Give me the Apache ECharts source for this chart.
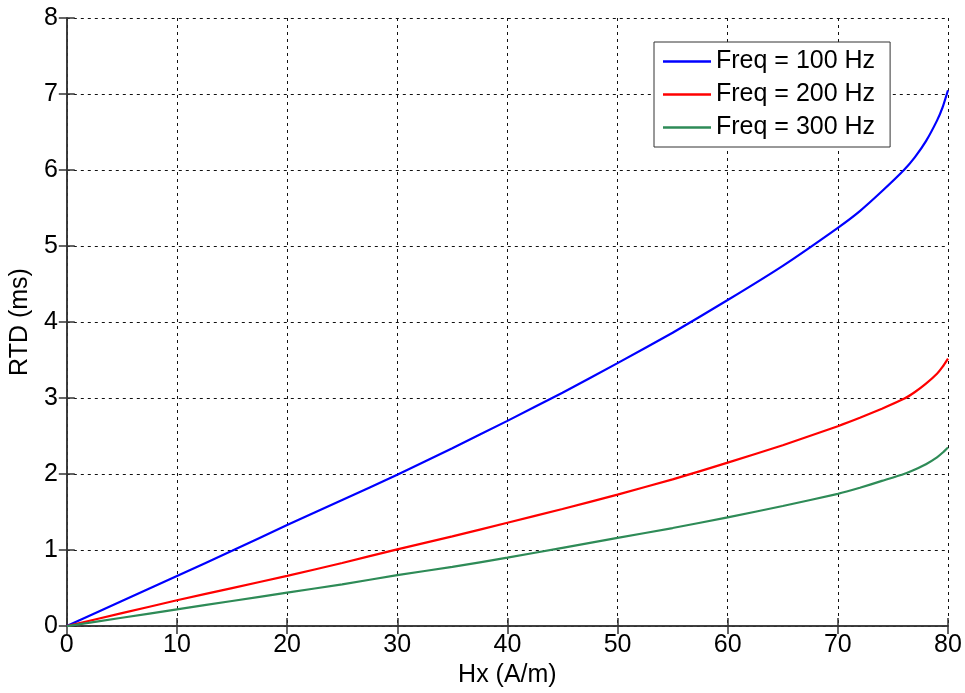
<!DOCTYPE html>
<html>
<head>
<meta charset="utf-8">
<script src="https://cdn.jsdelivr.net/npm/echarts@6/dist/echarts.min.js"></script>
<style>
html,body{margin:0;padding:0;background:#fff;}
#chart{width:965px;height:693px;}
</style>
</head>
<body>
<div id="chart"></div>
<script>
// Hx values (A/m)
var hx = [0, 5, 10, 15, 20, 25, 30, 35, 40, 45, 50, 55, 60, 65, 70, 72, 74, 76, 77, 78, 79, 79.5, 80];
// RTD (ms)
var rtd100 = [0, 0.33, 0.66, 0.99, 1.33, 1.66, 1.99, 2.34, 2.70, 3.07, 3.46, 3.86, 4.29, 4.74, 5.24, 5.46, 5.72, 6.00, 6.17, 6.38, 6.65, 6.82, 7.05];
var rtd200 = [0, 0.17, 0.34, 0.50, 0.66, 0.83, 1.01, 1.18, 1.36, 1.54, 1.73, 1.93, 2.15, 2.38, 2.63, 2.74, 2.86, 2.99, 3.08, 3.19, 3.32, 3.41, 3.52];
var rtd300 = [0, 0.11, 0.22, 0.33, 0.44, 0.55, 0.67, 0.78, 0.90, 1.03, 1.16, 1.29, 1.43, 1.58, 1.74, 1.82, 1.91, 2.00, 2.06, 2.13, 2.22, 2.28, 2.35];
var seriesNames = ['Freq = 100 Hz', 'Freq = 200 Hz', 'Freq = 300 Hz'];
var seriesColors = ['#0000ff', '#ff0000', '#2e8b57'];
var xTicks = [0, 10, 20, 30, 40, 50, 60, 70, 80];
var yTicks = [0, 1, 2, 3, 4, 5, 6, 7, 8];

function pairs(ys){ return hx.map(function(x,i){ return [x, ys[i]]; }); }

var FONT = 'Liberation Sans, Arial, sans-serif';
var FS = 25;

var chart = echarts.init(document.getElementById('chart'), null, {renderer:'canvas'});
var gridLine = {show:true, lineStyle:{color:'#111', width:1, type:[3,4]}};
var option = {
  backgroundColor:'#fff',
  animation:false,
  grid:{left:63, right:17, top:18, bottom:66},
  legend:{
    orient:'vertical', left:654, top:42,
    data:seriesNames,
    icon:'rect', itemWidth:48, itemHeight:2.5, itemGap:8,
    padding:[7,15,7,9],
    borderColor:'#333', borderWidth:1, backgroundColor:'#fff',
    textStyle:{fontFamily:FONT, fontSize:FS, color:'#000'}
  },
  xAxis:[{
    type:'value', min:xTicks[0], max:xTicks[xTicks.length-1], interval:10,
    name:'Hx (A/m)', nameLocation:'middle', nameGap:16,
    nameTextStyle:{fontFamily:FONT, fontSize:FS, color:'#000'},
    axisLine:{show:true, lineStyle:{color:'#333', width:1.5}},
    axisTick:{show:true, inside:true, length:8, lineStyle:{color:'#333', width:1.5}},
    axisLabel:{fontFamily:FONT, fontSize:FS, color:'#000', margin:7},
    splitLine:gridLine
  },{
    type:'value', position:'top', min:0, max:80, interval:10,
    axisLine:{show:true, lineStyle:{color:'#333', width:1.5}},
    axisTick:{show:true, inside:true, length:8, lineStyle:{color:'#333', width:1.5}},
    axisLabel:{show:false}, splitLine:{show:false}
  }],
  yAxis:[{
    type:'value', min:yTicks[0], max:yTicks[yTicks.length-1], interval:1,
    name:'RTD (ms)', nameLocation:'middle', nameGap:27, nameRotate:90,
    nameTextStyle:{fontFamily:FONT, fontSize:FS, color:'#000'},
    axisLine:{show:true, lineStyle:{color:'#333', width:1.5}},
    axisTick:{show:true, inside:true, length:8, lineStyle:{color:'#333', width:1.5}},
    axisLabel:{fontFamily:FONT, fontSize:FS, color:'#000', margin:9},
    splitLine:gridLine
  },{
    type:'value', position:'right', min:0, max:8, interval:1,
    axisLine:{show:true, lineStyle:{color:'#333', width:1.5}},
    axisTick:{show:true, inside:true, length:8, lineStyle:{color:'#333', width:1.5}},
    axisLabel:{show:false}, splitLine:{show:false}
  }],
  series:[rtd100, rtd200, rtd300].map(function(ys, i){
    return {
      name:seriesNames[i], type:'line', data:pairs(ys),
      xAxisIndex:0, yAxisIndex:0,
      showSymbol:false, symbol:'none',
      smooth:0.15,
      lineStyle:{color:seriesColors[i], width:2.2},
      itemStyle:{color:seriesColors[i]}
    };
  })
};
chart.setOption(option);
</script>
</body>
</html>
